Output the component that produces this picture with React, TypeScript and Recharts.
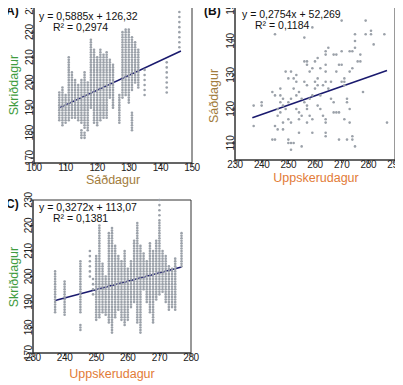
import React from 'react'
import { ScatterChart, Scatter, XAxis, YAxis, ReferenceArea, ReferenceLine } from 'recharts'

// (A) Sáðdagur vs Skriðdagur — columns of points: [x, yFrom, yTo, step]
const colsA: number[][] = [
  [108, 185, 196, 1], [109, 183, 198, 1], [110, 184, 195, 1], [111, 185, 210, 1],
  [112, 186, 204, 1], [113, 186, 201, 1], [114, 185, 199, 1], [115, 184, 201, 1],
  [115, 178, 181, 1], [116, 182, 204, 1], [116, 178, 180, 1], [117, 181, 200, 1],
  [118, 190, 217, 1], [119, 184, 213, 1], [120, 183, 210, 1], [121, 185, 213, 1],
  [122, 186, 211, 1], [123, 186, 212, 1], [124, 194, 209, 1], [125, 190, 207, 1],
  [127, 184, 195, 1], [128, 194, 220, 1], [129, 195, 221, 1], [130, 192, 221, 1],
  [131, 197, 218, 1], [131, 181, 188, 1], [132, 200, 216, 1], [133, 198, 213, 1],
  [135, 195, 205, 2], [142, 196, 208, 2], [146, 214, 229, 2],
]

// (B) Uppskerudagur vs Sáðdagur — single points [x, y]
const pointsB: number[][] = [
  [237, 121], [237, 115], [240, 122], [240, 121], [244, 125], [245, 124], [245, 142],
  [247, 126], [247, 124], [246, 120], [246, 118], [247, 119], [245, 115], [246, 114],
  [244, 111], [245, 111], [248, 123], [248, 121], [247, 122], [249, 120], [248, 114],
  [248, 116], [249, 131], [250, 129], [250, 122], [251, 123], [250, 117], [251, 116],
  [250, 111], [250, 110], [251, 110], [251, 108], [252, 110], [251, 131], [252, 129],
  [253, 128], [253, 130], [252, 126], [253, 124], [254, 125], [253, 120], [254, 119],
  [254, 117], [255, 118], [255, 123], [256, 122], [254, 113], [255, 109], [256, 128],
  [257, 127], [256, 134], [257, 134], [257, 133], [256, 141], [257, 120], [257, 121],
  [257, 116], [258, 118], [259, 117], [258, 131], [259, 132], [258, 123], [259, 124],
  [259, 144], [259, 113], [260, 126], [261, 127], [260, 128], [261, 129], [260, 134],
  [261, 135], [262, 132], [261, 121], [262, 120], [262, 124], [263, 127], [264, 128],
  [264, 131], [264, 133], [264, 136], [264, 137], [265, 138], [263, 118], [264, 117],
  [264, 116], [264, 113], [264, 112], [265, 126], [266, 128], [266, 123], [267, 122],
  [267, 119], [267, 136], [268, 136], [268, 131], [269, 133], [268, 119], [269, 119],
  [269, 111], [270, 137], [270, 128], [271, 128], [270, 133], [270, 146], [271, 129],
  [271, 127], [271, 117], [272, 111], [272, 123], [272, 122], [273, 137], [274, 137],
  [273, 131], [274, 132], [273, 120], [273, 116], [274, 112], [274, 111], [275, 109],
  [275, 140], [275, 138], [275, 142], [279, 142], [276, 134], [277, 134], [277, 136],
  [278, 125], [279, 146], [281, 143], [281, 142], [282, 139], [286, 142], [287, 116],
]

// (C) Uppskerudagur vs Skriðdagur — columns [x, yFrom, yTo, step]
const colsC: number[][] = [
  [237, 186, 202, 1], [240, 185, 198, 1], [245, 186, 206, 1], [245, 179, 181, 1],
  [248, 200, 210, 2], [249, 193, 199, 2], [250, 183, 208, 1], [251, 184, 220, 1],
  [252, 186, 205, 1], [253, 185, 200, 1], [254, 182, 217, 1], [255, 178, 219, 1],
  [256, 184, 212, 1], [257, 187, 208, 1], [258, 183, 206, 1], [259, 181, 210, 1],
  [260, 183, 203, 1], [261, 188, 206, 1], [262, 190, 214, 1], [263, 182, 221, 1],
  [264, 178, 212, 1], [265, 195, 209, 1], [266, 190, 206, 1], [267, 186, 213, 1],
  [268, 182, 210, 1], [269, 191, 214, 1], [270, 193, 222, 1], [270, 224, 230, 2],
  [271, 194, 210, 1], [272, 190, 208, 1], [273, 187, 204, 1], [274, 188, 203, 1],
  [275, 187, 207, 1], [277, 204, 217, 1],
]

// trend line end points
const lineA = [{ x: 108, y: 189.9 }, { x: 146.5, y: 212.5 }]
const lineB = [{ x: 236.5, y: 117.4 }, { x: 287, y: 131.3 }]
const lineC = [{ x: 237, y: 190.6 }, { x: 277, y: 203.7 }]

const xTicksA = [100, 110, 120, 130, 140, 150]
const yTicksA = [170, 180, 190, 200, 210, 220, 230]
const xTicksB = [230, 240, 250, 260, 270, 280, 290]
const yTicksB = [110, 120, 130, 140, 150]
const xTicksC = [230, 240, 250, 260, 270, 280]
const yTicksC = [170, 180, 190, 200, 210, 220, 230]

const FONT = '"Liberation Sans", Arial, sans-serif'
const DOT = '#9ba1a9'
const LINE = '#1a1a6e'
const FRAME = '#333'
const GREEN = '#3f9c3f'
const BROWN = '#a27c3c'
const ORANGE = '#e27b37'
const TICK_SIZE = 10

function toPoints(cols: number[][]) {
  const out: { x: number; y: number }[] = []
  cols.forEach(([x, from, to, step]) => {
    for (let y = from; y <= to; y += step) out.push({ x, y })
  })
  return out
}

const dataA = toPoints(colsA)
const dataB = pointsB.map(([x, y]) => ({ x, y }))
const dataC = toPoints(colsC)

function Dot(props: any) {
  return <circle cx={props.cx} cy={props.cy} r={1.3} fill={DOT} />
}

function XTick(props: any) {
  const { x, y, payload } = props
  return (
    <text x={x} y={y} dy="0.71em" textAnchor="middle" fontSize={TICK_SIZE} letterSpacing={-0.4} fill="#222">
      {payload.value}
    </text>
  )
}

function RotTick(props: any) {
  const { y, payload, bx } = props
  return (
    <text x={bx} y={y} transform={`rotate(-90 ${bx} ${y})`} textAnchor="middle" fontSize={TICK_SIZE} letterSpacing={-0.4} fill="#222">
      {payload.value}
    </text>
  )
}

interface PanelProps {
  data: { x: number; y: number }[]
  line: { x: number; y: number }[]
  xDomain: number[]
  yDomain: number[]
  xTicks: number[]
  yTicks: number[]
  width: number
  height: number
  margin: { top: number; right: number; left: number; bottom: number }
  yWidth: number
  xHeight: number
  left: number
  top: number
}

function Panel(p: PanelProps) {
  return (
    <div style={{ position: 'absolute', left: p.left, top: p.top }}>
      <ScatterChart width={p.width} height={p.height} margin={p.margin} style={{ overflow: 'visible' }}>
        <XAxis
          type="number"
          dataKey="x"
          domain={p.xDomain}
          ticks={p.xTicks}
          interval={0}
          height={p.xHeight}
          tickSize={3}
          tickMargin={-2}
          tick={XTick}
          axisLine={{ stroke: FRAME }}
          tickLine={{ stroke: FRAME }}
        />
        <YAxis
          type="number"
          dataKey="y"
          domain={p.yDomain}
          ticks={p.yTicks}
          interval={0}
          width={p.yWidth}
          tickSize={3}
          axisLine={{ stroke: FRAME }}
          tickLine={{ stroke: FRAME }}
          tick={(t: any) => <RotTick {...t} bx={p.yWidth - 1} />}
        />
        <ReferenceArea
          x1={p.xDomain[0]}
          x2={p.xDomain[1]}
          y1={p.yDomain[0]}
          y2={p.yDomain[1]}
          fill="none"
          stroke={FRAME}
          strokeWidth={1}
          ifOverflow="visible"
        />
        <Scatter data={p.data} shape={Dot} isAnimationActive={false} />
        <ReferenceLine
          segment={p.line}
          stroke={LINE}
          strokeWidth={1.6}
          ifOverflow="visible"
        />
      </ScatterChart>
    </div>
  )
}

const txt: React.CSSProperties = { position: 'absolute', whiteSpace: 'nowrap', lineHeight: 1 }

function Label({ x, y, children, style }: { x: number; y: number; children: React.ReactNode; style?: React.CSSProperties }) {
  return <div style={{ ...txt, left: x, top: y, ...style }}>{children}</div>
}

function Title({ x, y, color, rotate, children }: { x: number; y: number; color: string; rotate?: boolean; children: React.ReactNode }) {
  return (
    <div
      style={{
        ...txt,
        left: x,
        top: y,
        color,
        fontSize: 12.5,
        transform: `translate(-50%, -50%)${rotate ? ' rotate(-90deg)' : ''}`,
      }}
    >
      {children}
    </div>
  )
}

export default function App() {
  return (
    <div style={{ position: 'relative', width: 403, height: 385, margin: '-8px 0 0 -8px', fontFamily: FONT, color: '#111', background: '#fff' }}>
      <style>{'.recharts-surface{overflow:visible}'}</style>
      <Panel
        data={dataA} line={lineA} xDomain={[100, 150]} yDomain={[168, 230]}
        xTicks={xTicksA} yTicks={yTicksA} width={200} height={190}
        margin={{ top: 7, right: 8, left: 0, bottom: 0 }} yWidth={34} xHeight={27} left={0} top={0}
      />
      <Panel
        data={dataB} line={lineB} xDomain={[230, 290]} yDomain={[105, 150]}
        xTicks={xTicksB} yTicks={yTicksB} width={203} height={190}
        margin={{ top: 7, right: 8, left: 0, bottom: 0 }} yWidth={35} xHeight={30} left={200} top={0}
      />
      <Panel
        data={dataC} line={lineC} xDomain={[230, 280]} yDomain={[170, 230]}
        xTicks={xTicksC} yTicks={yTicksC} width={200} height={195}
        margin={{ top: 10, right: 9, left: 0, bottom: 0 }} yWidth={33} xHeight={32} left={0} top={190}
      />

      <Label x={2} y={5} style={{ fontWeight: 'bold', fontSize: 12 }}>(A)</Label>
      <Label x={39} y={11} style={{ fontSize: 10.5 }}>y = 0,5885x + 126,32</Label>
      <Label x={53} y={22} style={{ fontSize: 10.5 }}>R² = 0,2974</Label>
      <Title x={14} y={85} color={GREEN} rotate>Skriðdagur</Title>
      <Title x={113} y={180} color={BROWN}>Sáðdagur</Title>

      <Label x={204} y={5} style={{ fontWeight: 'bold', fontSize: 12 }}>(B)</Label>
      <Label x={242} y={9} style={{ fontSize: 10.5 }}>y = 0,2754x + 52,269</Label>
      <Label x={255} y={20} style={{ fontSize: 10.5 }}>R² = 0,1184</Label>
      <Title x={214} y={96} color={BROWN} rotate>Sáðdagur</Title>
      <Title x={316} y={178} color={ORANGE}>Uppskerudagur</Title>

      <Label x={2} y={198} style={{ fontWeight: 'bold', fontSize: 12 }}>(C)</Label>
      <Label x={39} y={202} style={{ fontSize: 10.5 }}>y = 0,3272x + 113,07</Label>
      <Label x={53} y={213} style={{ fontSize: 10.5 }}>R² = 0,1381</Label>
      <Title x={14} y={277} color={GREEN} rotate>Skriðdagur</Title>
      <Title x={112} y={374} color={ORANGE}>Uppskerudagur</Title>
    </div>
  )
}
